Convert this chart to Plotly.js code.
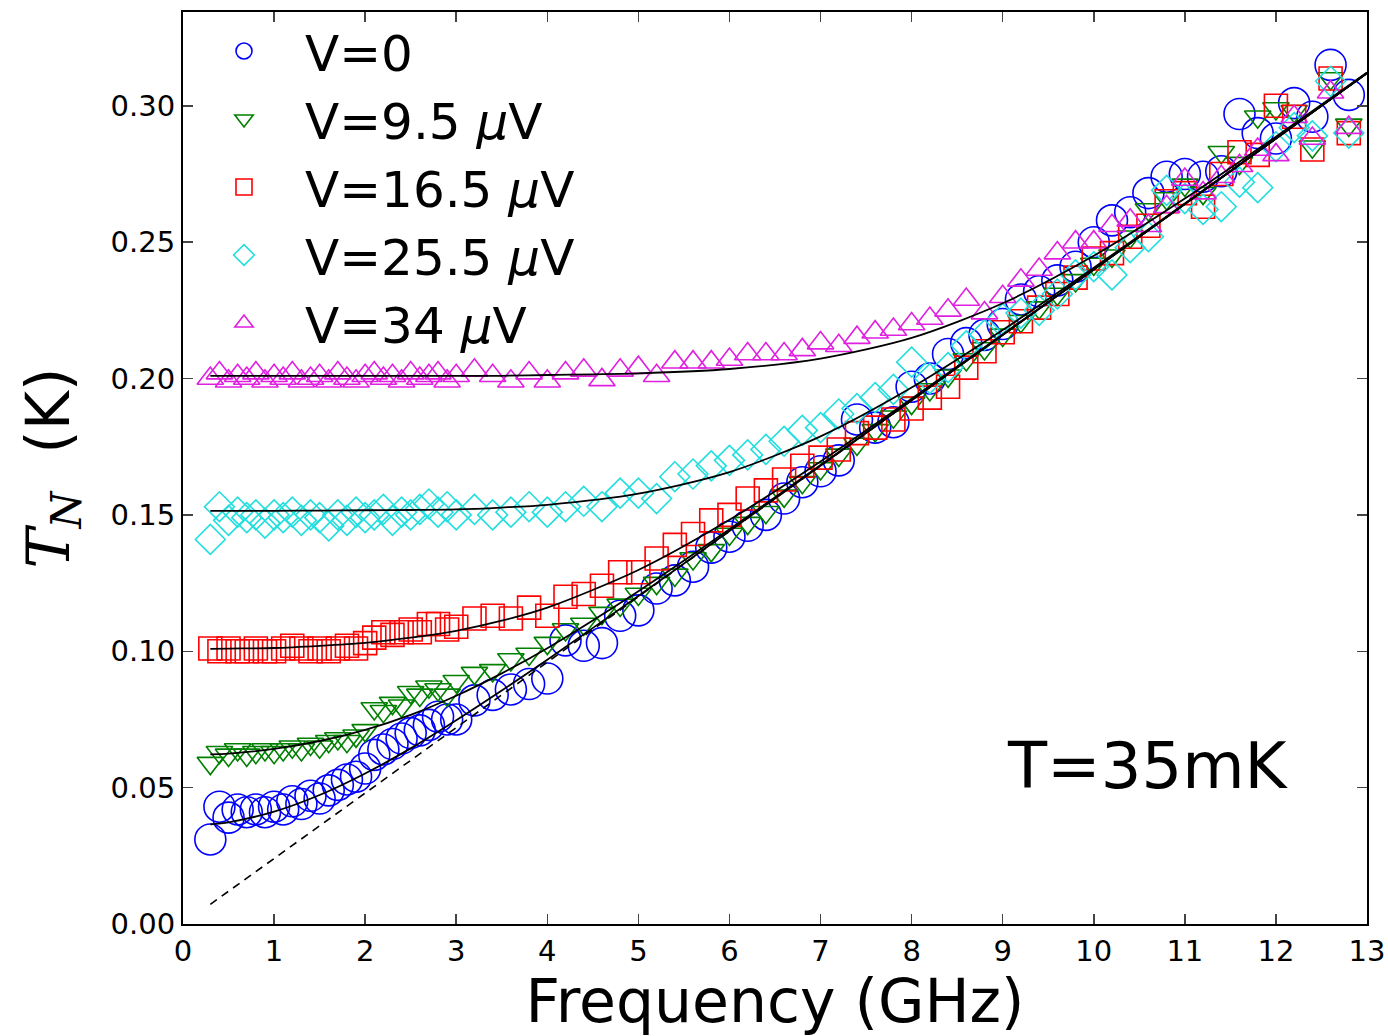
<!DOCTYPE html>
<html>
<head>
<meta charset="utf-8">
<script src="https://cdn.plot.ly/plotly-3.0.1.min.js"></script>
<style>html,body{margin:0;padding:0;background:#fff;}#chart{width:1388px;height:1036px;}</style>
</head>
<body>
<div id="chart"></div>
<script>
// Frequency grid of the measured points (GHz)
const freq = [0.3,0.4,0.5,0.6,0.7,0.8,0.9,1.0,1.1,1.2,1.3,1.4,1.5,1.6,1.7,1.8,1.9,2.0,2.1,2.2,2.3,2.4,2.5,2.6,2.7,2.8,2.9,3.0,
  3.2,3.4,3.6,3.8,4.0,4.2,4.4,4.6,4.8,5.0,5.2,5.4,5.6,5.8,6.0,6.2,6.4,6.6,6.8,7.0,7.2,7.4,7.6,7.8,8.0,8.2,8.4,8.6,8.8,9.0,
  9.2,9.4,9.6,9.8,10.0,10.2,10.4,10.6,10.8,11.0,11.2,11.4,11.6,11.8,12.0,12.2,12.4,12.6,12.8];

// Measured noise temperature T_N (K)
const tnV0 = [0.031,0.043,0.039,0.042,0.041,0.042,0.041,0.043,0.042,0.045,0.044,0.047,0.046,0.049,0.051,0.053,0.054,0.057,0.062,0.064,0.066,0.068,0.070,0.071,0.073,0.076,0.075,0.075,
  0.082,0.084,0.086,0.088,0.090,0.104,0.102,0.103,0.113,0.115,0.123,0.126,0.131,0.138,0.142,0.146,0.150,0.156,0.162,0.166,0.170,0.185,0.182,0.184,0.197,0.200,0.209,0.213,0.216,0.220,
  0.229,0.232,0.236,0.241,0.250,0.258,0.261,0.268,0.274,0.275,0.274,0.276,0.297,0.290,0.288,0.301,0.296,0.315,0.304];
const tnV95 = [0.059,0.063,0.062,0.064,0.062,0.063,0.064,0.063,0.064,0.065,0.064,0.066,0.065,0.067,0.068,0.067,0.069,0.071,0.079,0.078,0.081,0.080,0.085,0.084,0.087,0.086,0.084,0.089,
  0.092,0.093,0.097,0.099,0.103,0.108,0.110,0.114,0.117,0.121,0.125,0.128,0.134,0.137,0.143,0.147,0.151,0.157,0.162,0.167,0.172,0.176,0.181,0.186,0.191,0.196,0.201,0.207,0.211,0.216,
  0.221,0.226,0.231,0.236,0.242,0.245,0.252,0.262,0.266,0.271,0.268,0.283,0.279,0.296,0.299,0.298,0.285,0.310,0.293];
const tnV165 = [0.101,0.100,0.101,0.100,0.100,0.101,0.100,0.100,0.101,0.102,0.101,0.100,0.101,0.100,0.101,0.102,0.101,0.103,0.105,0.107,0.106,0.107,0.108,0.107,0.110,0.110,0.108,0.109,
  0.112,0.113,0.112,0.116,0.113,0.120,0.121,0.124,0.129,0.129,0.134,0.139,0.143,0.148,0.150,0.156,0.159,0.163,0.168,0.171,0.174,0.180,0.182,0.185,0.189,0.193,0.197,0.204,0.210,0.217,
  0.221,0.226,0.231,0.237,0.244,0.246,0.252,0.256,0.265,0.268,0.263,0.275,0.283,0.282,0.300,0.296,0.284,0.310,0.290];
const tnV255 = [0.141,0.153,0.148,0.151,0.149,0.150,0.147,0.150,0.149,0.151,0.148,0.150,0.149,0.146,0.150,0.148,0.151,0.149,0.150,0.152,0.148,0.151,0.150,0.152,0.154,0.151,0.153,0.150,
  0.152,0.150,0.151,0.153,0.151,0.153,0.155,0.153,0.158,0.158,0.156,0.164,0.165,0.168,0.170,0.172,0.174,0.177,0.181,0.182,0.187,0.189,0.193,0.196,0.206,0.200,0.204,0.212,0.216,0.222,
  0.224,0.225,0.231,0.238,0.241,0.238,0.248,0.252,0.269,0.266,0.262,0.263,0.272,0.270,0.285,0.292,0.289,0.309,0.290];
const tnV34 = [0.200,0.202,0.199,0.201,0.200,0.202,0.199,0.201,0.200,0.202,0.199,0.200,0.201,0.199,0.202,0.200,0.199,0.201,0.202,0.200,0.201,0.199,0.202,0.200,0.201,0.202,0.199,0.201,
  0.203,0.201,0.199,0.202,0.199,0.202,0.203,0.1995,0.203,0.204,0.201,0.206,0.206,0.206,0.207,0.209,0.209,0.209,0.2105,0.213,0.212,0.215,0.217,0.218,0.220,0.222,0.225,0.229,0.224,0.230,
  0.236,0.240,0.246,0.250,0.250,0.256,0.258,0.256,0.263,0.273,0.268,0.274,0.278,0.284,0.282,0.296,0.288,0.305,0.292];

// Fit curves (black solid lines)
const fitF = [0.3,0.5,1,1.5,2,2.5,3,3.5,4,5,6,7,8,9,10,11,12,13];
const fitV0 = [0.0365,0.0373,0.0412,0.0473,0.0552,0.0644,0.0747,0.0856,0.0969,0.1203,0.1441,0.168,0.192,0.216,0.240,0.264,0.288,0.312];
const fitV95 = [0.0622,0.0625,0.0642,0.0671,0.0712,0.0767,0.0837,0.0919,0.1011,0.1220,0.1447,0.1683,0.192,0.216,0.240,0.264,0.288,0.312];
const fitV165 = [0.1009,0.1010,0.1012,0.1020,0.1031,0.1050,0.1075,0.1112,0.1160,0.1298,0.1482,0.1696,0.1926,0.2162,0.240,0.264,0.288,0.312];
const fitV255 = [0.1515,0.1515,0.1515,0.1516,0.1517,0.1518,0.152,0.1527,0.1537,0.1578,0.1657,0.1788,0.1967,0.2178,0.2406,0.2642,0.288,0.312];
const fitV34 = [0.201,0.201,0.201,0.201,0.201,0.201,0.201,0.201,0.2013,0.2019,0.2035,0.2073,0.2149,0.2276,0.2450,0.2660,0.2887,0.3122];

// Quantum-limit line hf/2k (dashed)
const qlF = [0.3, 13];
const qlT = [0.0072, 0.312];

const seriesNames = ['V=0', 'V=9.5 <i>μ</i>V', 'V=16.5 <i>μ</i>V', 'V=25.5 <i>μ</i>V', 'V=34 <i>μ</i>V'];
const seriesData = [tnV0, tnV95, tnV165, tnV255, tnV34];
const seriesColors = ['#0000ff', '#008000', '#ff0000', '#22dede', '#e020e0'];
const seriesSymbols = ['circle-open', 'triangle-down-open', 'square-open', 'diamond-open', 'triangle-up-open'];
const seriesSizes = [31, 23, 23, 23, 23];

const traces = [];
for (let i = 0; i < seriesData.length; i++) {
  traces.push({
    x: freq, y: seriesData[i], type: 'scatter', mode: 'markers', name: seriesNames[i],
    marker: {symbol: seriesSymbols[i], size: seriesSizes[i], color: seriesColors[i],
             line: {color: seriesColors[i], width: 1.6}},
    cliponaxis: true
  });
}
const fits = [fitV0, fitV95, fitV165, fitV255, fitV34];
for (const f of fits) {
  traces.push({x: fitF, y: f, type: 'scatter', mode: 'lines', showlegend: false,
    line: {color: '#000', width: 1.8, shape: 'spline', smoothing: 0.8}});
}
traces.push({x: qlF, y: qlT, type: 'scatter', mode: 'lines', showlegend: false,
  line: {color: '#000', width: 1.6, dash: '8px,6px'}});

const font = 'DejaVu Sans, Arial, sans-serif';
const layout = {
  width: 1388, height: 1036,
  margin: {l: 183, r: 21, t: 12, b: 112},
  paper_bgcolor: '#fff', plot_bgcolor: '#fff',
  font: {family: font, color: '#000'},
  showlegend: true,
  legend: {x: 0.0, y: 1.0, xanchor: 'left', yanchor: 'top', bgcolor: 'rgba(0,0,0,0)',
           font: {family: font, size: 50, color: '#000'}, itemwidth: 112, tracegroupgap: 0,
           itemsizing: 'trace'},
  xaxis: {range: [0, 13], dtick: 1, tick0: 0, ticks: 'inside', ticklen: 10, tickwidth: 1.5,
          showline: true, linecolor: '#000', linewidth: 2, mirror: 'ticks', showgrid: false, zeroline: false,
          tickfont: {family: font, size: 29},
          title: {text: 'Frequency (GHz)', font: {family: font, size: 60}, standoff: 14}},
  yaxis: {range: [0, 0.3344], dtick: 0.05, tick0: 0, tickformat: '.2f', ticks: 'inside', ticklen: 10, tickwidth: 1.5,
          showline: true, linecolor: '#000', linewidth: 2, mirror: 'ticks', showgrid: false, zeroline: false,
          tickfont: {family: font, size: 29},
          title: {text: "<span style=\"font-family:'DejaVu Serif'\"><i>T</i><sub><i>N</i></sub></span>  (K)", font: {family: font, size: 60}, standoff: 22}},
  annotations: [{x: 10.6, y: 0.058, xref: 'x', yref: 'y', text: 'T=35mK', showarrow: false,
                 font: {family: font, size: 64, color: '#000'}}]
};
Plotly.newPlot('chart', traces, layout, {displayModeBar: false, staticPlot: true});
</script>
</body>
</html>
